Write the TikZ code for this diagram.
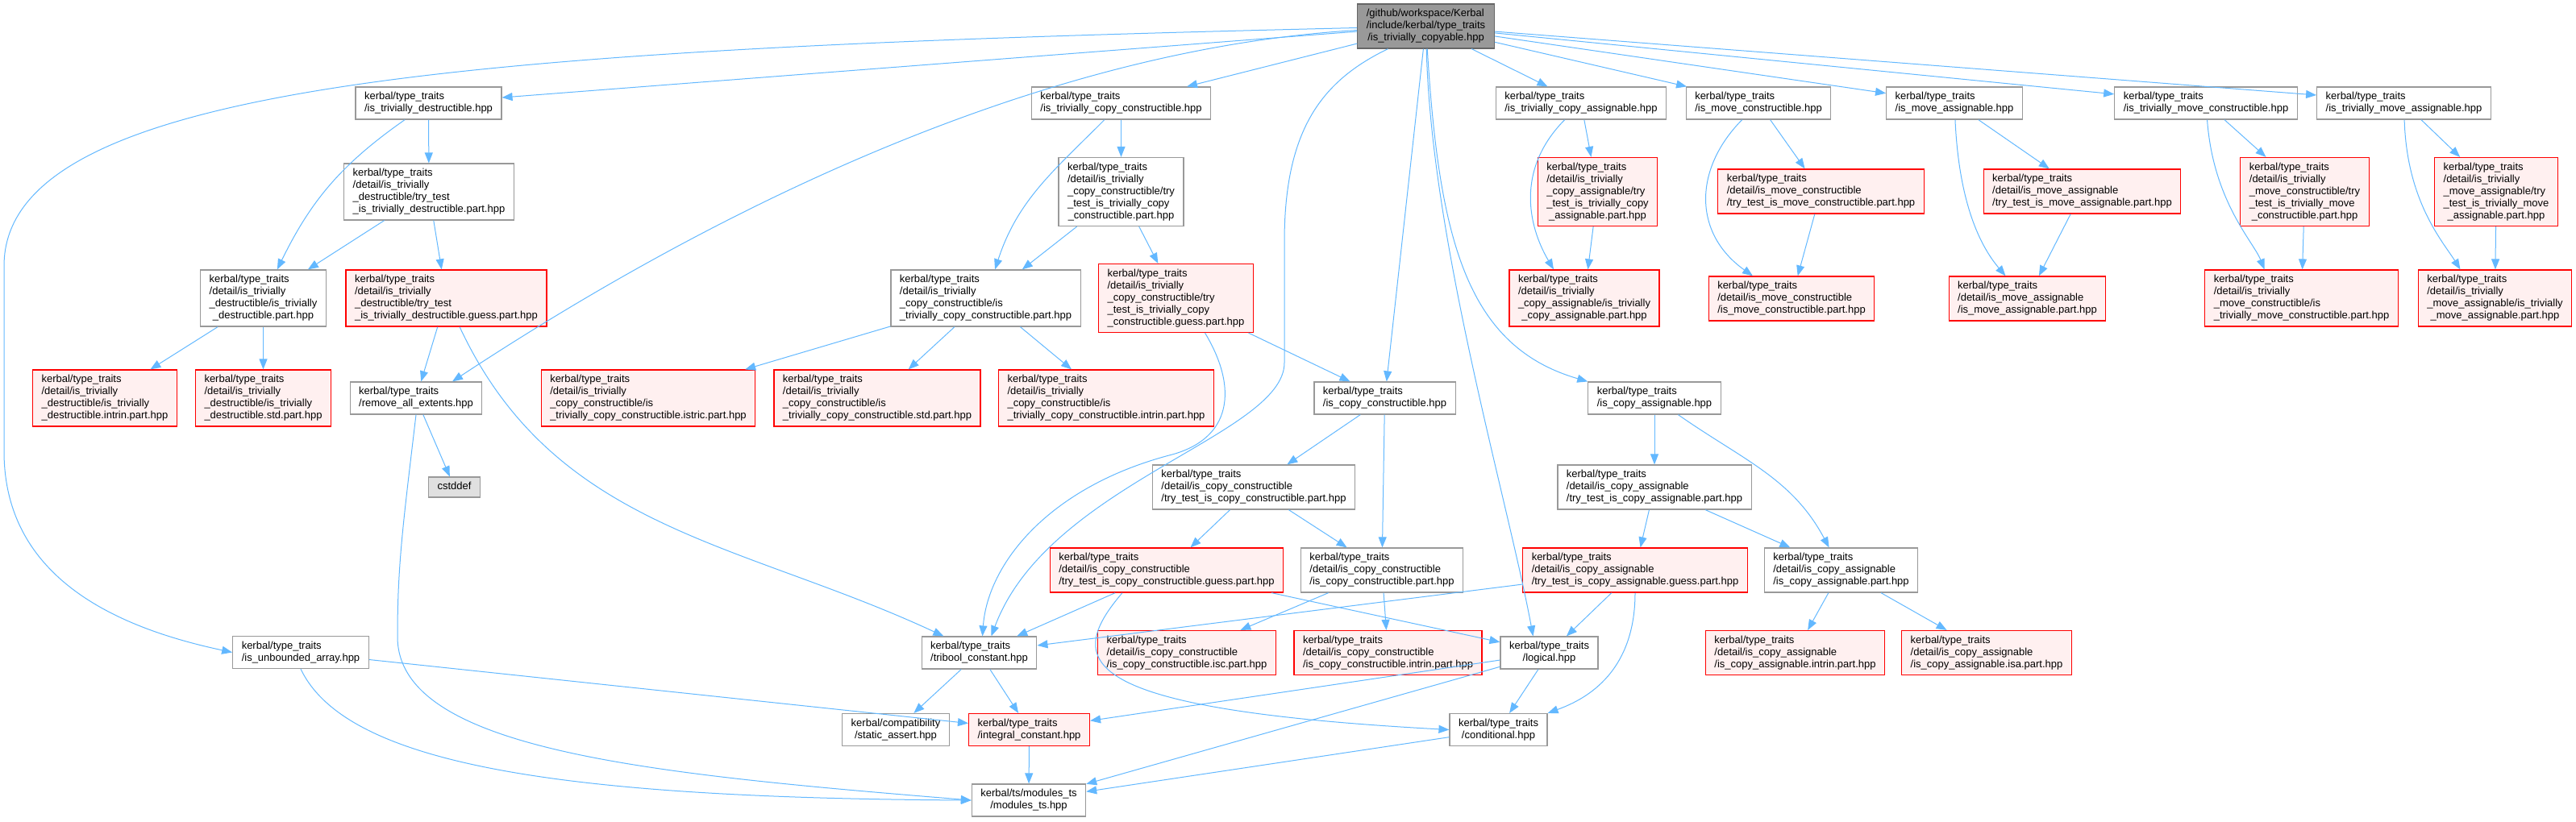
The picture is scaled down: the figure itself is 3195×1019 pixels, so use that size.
\documentclass[tikz,border=0pt]{standalone}
\usepackage{fontspec}
\setmainfont{Liberation Sans}
\usepackage{xcolor}
\usepackage{tikz}
\usetikzlibrary{arrows.meta, calc}

\definecolor{edgeblue}{HTML}{63B8FF}
\definecolor{boxline}{HTML}{999999}
\definecolor{rootfill}{HTML}{999999}
\definecolor{rootline}{HTML}{666666}
\definecolor{sysfill}{HTML}{E0E0E0}
\definecolor{missfill}{HTML}{FFF0F0}

% all lines left, the last one centred (as doxygen does)
\newcommand{\hdr}[2]{\begin{tabular}{@{}l@{}}#1\\\multicolumn{1}{@{}c@{}}{#2}\end{tabular}}
\newcommand{\ktr}{kerbal/type\_traits}

\begin{document}
\begin{tikzpicture}[x=0.5pt, y=-0.5pt,
  hdrbox/.style={draw=boxline, fill=white, line width=0.6pt, inner xsep=5.5pt, inner ysep=2.5pt,
    font=\fontsize{6.5}{7.5}\selectfont},
  missbox/.style={hdrbox, draw=red, fill=missfill},
  rootbox/.style={hdrbox, draw=rootline, fill=rootfill},
  sysbox/.style={hdrbox, fill=sysfill},
  incl/.style={draw=edgeblue, line width=0.5pt, -{Triangle[length=6.5pt,width=5pt]}}]
  \useasboundingbox (0,0) rectangle (3195,1019);

  % ---- root ----
  \node[rootbox] (root) at (1768.5,32.5) {\hdr{/github/workspace/Kerbal\\/include/kerbal/type\_traits}{/is\_trivially\_copyable.hpp}};

  % ---- first row ----
  \node[hdrbox] (TD)  at (531.5,128)  {\hdr{\ktr}{/is\_trivially\_destructible.hpp}};
  \node[hdrbox] (TCC) at (1390.5,128) {\hdr{\ktr}{/is\_trivially\_copy\_constructible.hpp}};
  \node[hdrbox] (TCA) at (1961,128)   {\hdr{\ktr}{/is\_trivially\_copy\_assignable.hpp}};
  \node[hdrbox] (MC)  at (2181,128)   {\hdr{\ktr}{/is\_move\_constructible.hpp}};
  \node[hdrbox] (MA)  at (2424,128)   {\hdr{\ktr}{/is\_move\_assignable.hpp}};
  \node[hdrbox] (TMC) at (2736,128)   {\hdr{\ktr}{/is\_trivially\_move\_constructible.hpp}};
  \node[hdrbox] (TMA) at (2981.5,128) {\hdr{\ktr}{/is\_trivially\_move\_assignable.hpp}};

  % ---- try_test row ----
  \node[hdrbox]  (TDtry)  at (532,238)    {\hdr{\ktr\\/detail/is\_trivially\\\_destructible/try\_test}{\_is\_trivially\_destructible.part.hpp}};
  \node[hdrbox]  (TCCtry) at (1390.5,238) {\hdr{\ktr\\/detail/is\_trivially\\\_copy\_constructible/try\\\_test\_is\_trivially\_copy}{\_constructible.part.hpp}};
  \node[missbox] (TCAtry) at (1981.5,238) {\hdr{\ktr\\/detail/is\_trivially\\\_copy\_assignable/try\\\_test\_is\_trivially\_copy}{\_assignable.part.hpp}};
  \node[missbox] (MCtry)  at (2258.5,237.5) {\hdr{\ktr\\/detail/is\_move\_constructible}{/try\_test\_is\_move\_constructible.part.hpp}};
  \node[missbox] (MAtry)  at (2582.5,237.5) {\hdr{\ktr\\/detail/is\_move\_assignable}{/try\_test\_is\_move\_assignable.part.hpp}};
  \node[missbox] (TMCtry) at (2858.5,238) {\hdr{\ktr\\/detail/is\_trivially\\\_move\_constructible/try\\\_test\_is\_trivially\_move}{\_constructible.part.hpp}};
  \node[missbox] (TMAtry) at (3096,238)   {\hdr{\ktr\\/detail/is\_trivially\\\_move\_assignable/try\\\_test\_is\_trivially\_move}{\_assignable.part.hpp}};

  % ---- part row ----
  \node[hdrbox]  (TDpart)   at (326.5,370)  {\hdr{\ktr\\/detail/is\_trivially\\\_destructible/is\_trivially}{\_destructible.part.hpp}};
  \node[missbox] (TDguess)  at (553.5,370)  {\hdr{\ktr\\/detail/is\_trivially\\\_destructible/try\_test}{\_is\_trivially\_destructible.guess.part.hpp}};
  \node[hdrbox]  (TCCpart)  at (1222.5,370) {\hdr{\ktr\\/detail/is\_trivially\\\_copy\_constructible/is}{\_trivially\_copy\_constructible.part.hpp}};
  \node[missbox] (TCCguess) at (1458.5,370) {\hdr{\ktr\\/detail/is\_trivially\\\_copy\_constructible/try\\\_test\_is\_trivially\_copy}{\_constructible.guess.part.hpp}};
  \node[missbox] (TCApart)  at (1965,370)   {\hdr{\ktr\\/detail/is\_trivially\\\_copy\_assignable/is\_trivially}{\_copy\_assignable.part.hpp}};
  \node[missbox] (MCpart)   at (2222,370.5) {\hdr{\ktr\\/detail/is\_move\_constructible}{/is\_move\_constructible.part.hpp}};
  \node[missbox] (MApart)   at (2514.5,370.5) {\hdr{\ktr\\/detail/is\_move\_assignable}{/is\_move\_assignable.part.hpp}};
  \node[missbox] (TMCpart)  at (2854.5,370) {\hdr{\ktr\\/detail/is\_trivially\\\_move\_constructible/is}{\_trivially\_move\_constructible.part.hpp}};
  \node[missbox] (TMApart)  at (3094.5,370) {\hdr{\ktr\\/detail/is\_trivially\\\_move\_assignable/is\_trivially}{\_move\_assignable.part.hpp}};

  % ---- impl row ----
  \node[missbox] (TDintrin)  at (130,494)   {\hdr{\ktr\\/detail/is\_trivially\\\_destructible/is\_trivially}{\_destructible.intrin.part.hpp}};
  \node[missbox] (TDstd)     at (326.5,494) {\hdr{\ktr\\/detail/is\_trivially\\\_destructible/is\_trivially}{\_destructible.std.part.hpp}};
  \node[hdrbox]  (RAE)       at (516,494)   {\hdr{\ktr}{/remove\_all\_extents.hpp}};
  \node[sysbox]  (cstddef)   at (563.5,604.5) {\strut cstddef};
  \node[missbox] (TCCistric) at (804,494)   {\hdr{\ktr\\/detail/is\_trivially\\\_copy\_constructible/is}{\_trivially\_copy\_constructible.istric.part.hpp}};
  \node[missbox] (TCCstd)    at (1088,494)  {\hdr{\ktr\\/detail/is\_trivially\\\_copy\_constructible/is}{\_trivially\_copy\_constructible.std.part.hpp}};
  \node[missbox] (TCCintrin) at (1372,494)  {\hdr{\ktr\\/detail/is\_trivially\\\_copy\_constructible/is}{\_trivially\_copy\_constructible.intrin.part.hpp}};
  \node[hdrbox]  (CC)        at (1717.5,494) {\hdr{\ktr}{/is\_copy\_constructible.hpp}};
  \node[hdrbox]  (CA)        at (2052,494)  {\hdr{\ktr}{/is\_copy\_assignable.hpp}};

  % ---- copy traits ----
  \node[hdrbox]  (CCtry)    at (1555,604.5) {\hdr{\ktr\\/detail/is\_copy\_constructible}{/try\_test\_is\_copy\_constructible.part.hpp}};
  \node[hdrbox]  (CAtry)    at (2052,604.5) {\hdr{\ktr\\/detail/is\_copy\_assignable}{/try\_test\_is\_copy\_assignable.part.hpp}};
  \node[missbox] (CCguess)  at (1447,707.5) {\hdr{\ktr\\/detail/is\_copy\_constructible}{/try\_test\_is\_copy\_constructible.guess.part.hpp}};
  \node[hdrbox]  (CCpart)   at (1714,707.5) {\hdr{\ktr\\/detail/is\_copy\_constructible}{/is\_copy\_constructible.part.hpp}};
  \node[missbox] (CAguess)  at (2028,707.5) {\hdr{\ktr\\/detail/is\_copy\_assignable}{/try\_test\_is\_copy\_assignable.guess.part.hpp}};
  \node[hdrbox]  (CApart)   at (2283.5,707.5) {\hdr{\ktr\\/detail/is\_copy\_assignable}{/is\_copy\_assignable.part.hpp}};

  % ---- bottom rows ----
  \node[hdrbox]  (UA)       at (373,809.5)  {\hdr{\ktr}{/is\_unbounded\_array.hpp}};
  \node[hdrbox]  (TB)       at (1214.5,810) {\hdr{\ktr}{/tribool\_constant.hpp}};
  \node[missbox] (CCisc)    at (1472,810)   {\hdr{\ktr\\/detail/is\_copy\_constructible}{/is\_copy\_constructible.isc.part.hpp}};
  \node[missbox] (CCintrin) at (1721.5,810) {\hdr{\ktr\\/detail/is\_copy\_constructible}{/is\_copy\_constructible.intrin.part.hpp}};
  \node[hdrbox]  (LG)       at (1921.5,810) {\hdr{\ktr}{/logical.hpp}};
  \node[missbox] (CAintrin) at (2226.5,810) {\hdr{\ktr\\/detail/is\_copy\_assignable}{/is\_copy\_assignable.intrin.part.hpp}};
  \node[missbox] (CAisa)    at (2464,810)   {\hdr{\ktr\\/detail/is\_copy\_assignable}{/is\_copy\_assignable.isa.part.hpp}};
  \node[hdrbox]  (SA)       at (1111,905.5) {\hdr{kerbal/compatibility}{/static\_assert.hpp}};
  \node[missbox] (IC)       at (1276.5,905.5) {\hdr{\ktr}{/integral\_constant.hpp}};
  \node[hdrbox]  (CD)       at (1858.5,905.5) {\hdr{\ktr}{/conditional.hpp}};
  \node[hdrbox]  (MT)       at (1276,993)   {\hdr{kerbal/ts/modules\_ts}{/modules\_ts.hpp}};

  % ---- edges from root ----
  \draw[incl] (root) .. controls (600,60) and (5,100) .. (5,330) -- (5,560) .. controls (5,720) and (150,780) .. (UA.west);
  \draw[incl] (root) -- (TD);
  \draw[incl] (root) .. controls (1300,60) and (900,250) .. ($(RAE.north)+(45,0)$);
  \draw[incl] (root) -- (TCC);
  \draw[incl] ($(root.south)+(-47,0)$) .. controls (1640,100) and (1593,160) .. (1593,300) -- (1593,450)
    .. controls (1593,540) and (1300,600) .. ($(TB.north)+(15,0)$);
  \draw[incl] (root) -- (CC);
  \draw[incl] (root) .. controls (1775,300) and (1870,620) .. ($(LG.north)+(-20,0)$);
  \draw[incl] (root) .. controls (1785,300) and (1820,430) .. (CA.north west);
  \draw[incl] (root) -- (TCA);
  \draw[incl] (root) -- (MC);
  \draw[incl] (root) -- (MA);
  \draw[incl] (root) -- (TMC);
  \draw[incl] (root) -- ($(TMA.west)+(0,-10)$);

  % ---- destructible ----
  \draw[incl] (TD) to[out=-145,in=64] (TDpart);
  \draw[incl] (TD) -- (TDtry);
  \draw[incl] (TDtry) -- (TDpart);
  \draw[incl] (TDtry) -- (TDguess);
  \draw[incl] (TDpart) -- (TDintrin);
  \draw[incl] (TDpart) -- (TDstd);
  \draw[incl] (TDguess) -- (RAE);
  \draw[incl] (TDguess) to[out=-65,in=155] (TB);
  \draw[incl] (RAE) -- (cstddef);
  \draw[incl] (RAE.south) .. controls (500,650) and (493,700) .. (493,790) .. controls (493,930) and (800,960) .. (MT.west);
  \draw[incl] (UA.south) .. controls (430,950) and (700,990) .. (MT.west);
  \draw[incl] (UA) -- (IC);

  % ---- trivially copy constructible ----
  \draw[incl] (TCC) to[out=-135,in=72] (TCCpart);
  \draw[incl] (TCC) -- (TCCtry);
  \draw[incl] (TCCtry) -- (TCCpart);
  \draw[incl] (TCCtry) -- (TCCguess);
  \draw[incl] (TCCpart) -- (TCCistric);
  \draw[incl] (TCCpart) -- (TCCstd);
  \draw[incl] (TCCpart) -- (TCCintrin);
  \draw[incl] ($(TCCguess.south)+(36,0)$) .. controls (1535,480) and (1530,545) .. (1450,565)
    .. controls (1300,605) and (1225,700) .. ($(TB.north)+(4,0)$);
  \draw[incl] (TCCguess) -- (CC);

  % ---- assignable / move ----
  \draw[incl] (TCA) .. controls (1880,210) and (1895,280) .. ($(TCApart.north)+(-38,0)$);
  \draw[incl] (TCA) -- (TCAtry);
  \draw[incl] (TCAtry) -- (TCApart);
  \draw[incl] (MC) .. controls (2100,210) and (2100,290) .. ($(MCpart.north)+(-48,0)$);
  \draw[incl] (MC) -- (MCtry);
  \draw[incl] (MCtry) -- (MCpart);
  \draw[incl] (MA) .. controls (2430,260) and (2460,310) .. ($(MApart.north)+(-27,0)$);
  \draw[incl] (MA) -- (MAtry);
  \draw[incl] (MAtry) -- (MApart);
  \draw[incl] (TMC) .. controls (2745,250) and (2795,300) .. ($(TMCpart.north)+(-46,0)$);
  \draw[incl] (TMC) -- (TMCtry);
  \draw[incl] (TMCtry) -- (TMCpart);
  \draw[incl] (TMA) .. controls (2985,250) and (3030,300) .. ($(TMApart.north)+(-43,0)$);
  \draw[incl] (TMA) -- (TMAtry);
  \draw[incl] (TMAtry) -- (TMApart);

  % ---- copy constructible ----
  \draw[incl] (CC) -- (CCtry);
  \draw[incl] (CC) -- (CCpart);
  \draw[incl] (CCtry) -- (CCguess);
  \draw[incl] (CCtry) -- (CCpart);
  \draw[incl] (CCguess) -- (TB);
  \draw[incl] (CCguess) -- (LG);
  \draw[incl] ($(CCguess.south)+(-55,0)$) .. controls (1320,820) and (1330,880) .. (CD.west);
  \draw[incl] (CCpart) -- (CCisc);
  \draw[incl] (CCpart) -- (CCintrin);

  % ---- copy assignable ----
  \draw[incl] (CA) -- (CAtry);
  \draw[incl] (CA) to[out=-35,in=118] (CApart);
  \draw[incl] (CAtry) -- (CAguess);
  \draw[incl] (CAtry) -- (CApart);
  \draw[incl] (CAguess) -- (TB);
  \draw[incl] (CAguess) -- (LG);
  \draw[incl] (CAguess.south) .. controls (2028,840) and (1960,870) .. (CD.north east);
  \draw[incl] (CApart) -- (CAintrin);
  \draw[incl] (CApart) -- (CAisa);

  % ---- common helpers ----
  \draw[incl] (TB) -- (SA);
  \draw[incl] (TB) -- (IC);
  \draw[incl] (LG) -- (IC);
  \draw[incl] (LG) -- (MT);
  \draw[incl] (LG) -- (CD);
  \draw[incl] (CD) -- (MT);
  \draw[incl] (IC) -- (MT);
\end{tikzpicture}
\end{document}
